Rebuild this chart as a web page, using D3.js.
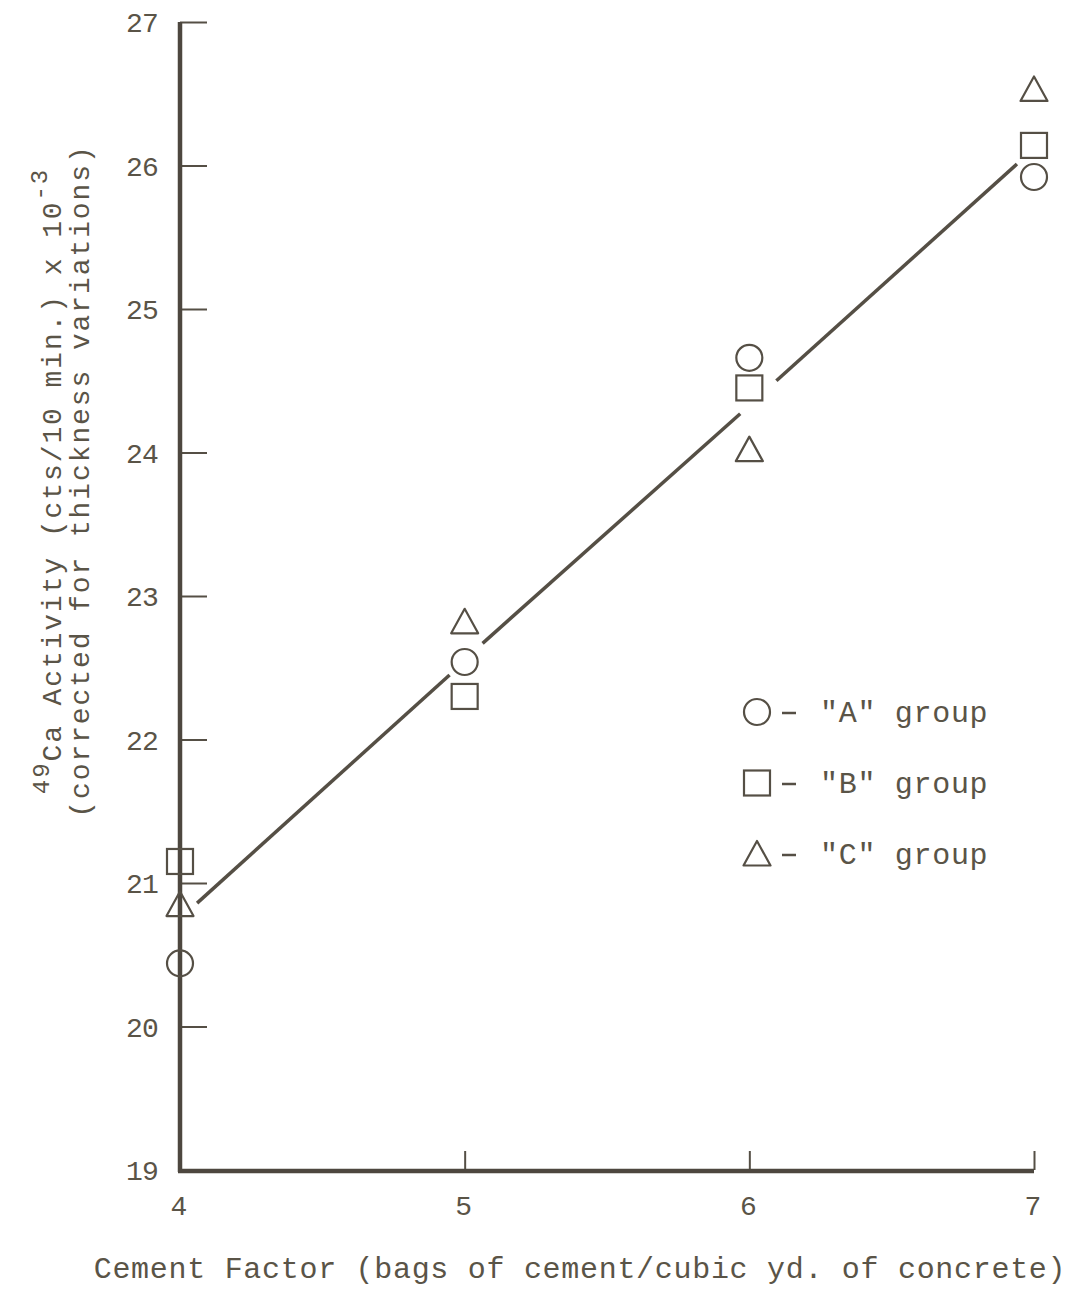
<!DOCTYPE html>
<html lang="en">
<head>
<meta charset="utf-8">
<title>49Ca Activity vs Cement Factor</title>
<script src="https://d3js.org/d3.v7.js"></script>
<style>
  body { margin: 0; background: #fff; }
  text { font-family: "Liberation Mono", "DejaVu Sans Mono", monospace; fill: #5a5447; }
</style>
</head>
<body>
<div id="chart"></div>
<script>
// data
const cementFactor = [4, 5, 6, 7];
const groupA = [20.44, 22.54, 24.66, 25.92];   // circles
const groupB = [21.15, 22.30, 24.45, 26.14];   // squares
const groupC = [20.85, 22.82, 24.02, 26.53];   // triangles
const yTicks = [19, 20, 21, 22, 23, 24, 25, 26, 27];
const xTicks = [4, 5, 6, 7];
// fitted line, drawn in pieces with gaps around the markers
const fitSegments = [
  [[4.06, 20.86], [4.947, 22.45]],
  [[5.063, 22.67], [5.968, 24.27]],
  [[6.095, 24.50], [6.94, 26.01]]
];
const legendItems = [
  { shape: "circle", label: "\"A\" group" },
  { shape: "square", label: "\"B\" group" },
  { shape: "triangle", label: "\"C\" group" }
];

const W = 1078, H = 1289;
const ink = "#554f45";

const svg = d3.select("#chart").append("svg")
  .attr("width", W).attr("height", H);

const x = d3.scaleLinear().domain([4, 7]).range([180, 1034]);
const y = d3.scaleLinear().domain([19, 27]).range([1170, 22]);

// marker shapes
function drawMarker(g, shape, cx, cy) {
  if (shape === "circle") {
    g.append("circle").attr("cx", cx).attr("cy", cy).attr("r", 13)
      .attr("fill", "none").attr("stroke", ink).attr("stroke-width", 2.2);
  } else if (shape === "square") {
    g.append("rect").attr("x", cx - 13).attr("y", cy - 12.5)
      .attr("width", 26).attr("height", 25)
      .attr("fill", "none").attr("stroke", ink).attr("stroke-width", 2.2);
  } else {
    g.append("path")
      .attr("d", `M${cx},${cy - 13}L${cx + 13.5},${cy + 11.5}L${cx - 13.5},${cy + 11.5}Z`)
      .attr("fill", "none").attr("stroke", ink).attr("stroke-width", 2.2)
      .attr("stroke-linejoin", "round");
  }
}

// y axis
const yAxis = svg.append("g").attr("transform", "translate(180,0)")
  .call(d3.axisRight(y).tickValues(yTicks).tickSize(27).tickFormat(""));
yAxis.select(".domain").remove();
yAxis.selectAll(".tick line").attr("stroke", ink).attr("stroke-width", 2);
svg.append("line").attr("x1", 180).attr("x2", 180)
  .attr("y1", y(27)).attr("y2", y(19) + 2)
  .attr("stroke", "#4d473f").attr("stroke-width", 4.5);

svg.append("g").selectAll("text").data(yTicks).join("text")
  .attr("x", 158).attr("y", d => y(d) + 10)
  .attr("text-anchor", "end")
  .attr("font-size", 28).attr("letter-spacing", -0.8)
  .text(d => d);

// x axis
const xAxis = svg.append("g").attr("transform", `translate(0,${y(19)})`)
  .call(d3.axisTop(x).tickValues(xTicks.slice(1)).tickSize(19).tickFormat(""));
xAxis.select(".domain").remove();
xAxis.selectAll(".tick line").attr("stroke", ink).attr("stroke-width", 2);
svg.append("line").attr("x1", 178).attr("x2", x(7))
  .attr("y1", y(19) + 1).attr("y2", y(19) + 1)
  .attr("stroke", "#4d473f").attr("stroke-width", 4.5);

svg.append("g").selectAll("text").data(xTicks).join("text")
  .attr("x", d => x(d) - 1).attr("y", 1215)
  .attr("text-anchor", "middle")
  .attr("font-size", 28)
  .text(d => d);

// axis titles
svg.append("text")
  .attr("x", 580).attr("y", 1278)
  .attr("text-anchor", "middle")
  .attr("font-size", 30).attr("letter-spacing", 0.7)
  .text("Cement Factor (bags of cement/cubic yd. of concrete)");

const yt = svg.append("g").attr("transform", "translate(0,481) rotate(-90)");
const l1 = yt.append("text").attr("x", 0).attr("y", 61)
  .attr("text-anchor", "middle")
  .attr("font-size", 28).attr("letter-spacing", 1.9);
l1.append("tspan").attr("font-size", 24).attr("dy", -12).text("49");
l1.append("tspan").attr("dy", 12).text("Ca Activity (cts/10 min.) x 10");
l1.append("tspan").attr("font-size", 24).attr("dy", -14).text("-3");
yt.append("text").attr("x", 0).attr("y", 89)
  .attr("text-anchor", "middle")
  .attr("font-size", 28).attr("letter-spacing", 1.9)
  .text("(corrected for thickness variations)");

// fitted line
const line = d3.line().x(d => x(d[0])).y(d => y(d[1]));
svg.append("g").selectAll("path").data(fitSegments).join("path")
  .attr("d", line)
  .attr("fill", "none").attr("stroke", ink).attr("stroke-width", 3.5);

// markers
const marks = svg.append("g");
const groups = [["circle", groupA], ["square", groupB], ["triangle", groupC]];
groups.forEach(([shape, vals]) => {
  vals.forEach((v, i) => drawMarker(marks, shape, x(cementFactor[i]), y(v)));
});

// legend
const legendY = [712, 783, 854];
const leg = svg.append("g");
legendItems.forEach((d, i) => {
  drawMarker(leg, d.shape, 757, legendY[i]);
  leg.append("line").attr("x1", 782).attr("x2", 796)
    .attr("y1", legendY[i] + 1).attr("y2", legendY[i] + 1)
    .attr("stroke", ink).attr("stroke-width", 2.5);
  leg.append("text").attr("x", 820).attr("y", legendY[i] + 10)
    .attr("font-size", 30).attr("letter-spacing", 0.7)
    .text(d.label);
});
</script>
</body>
</html>
